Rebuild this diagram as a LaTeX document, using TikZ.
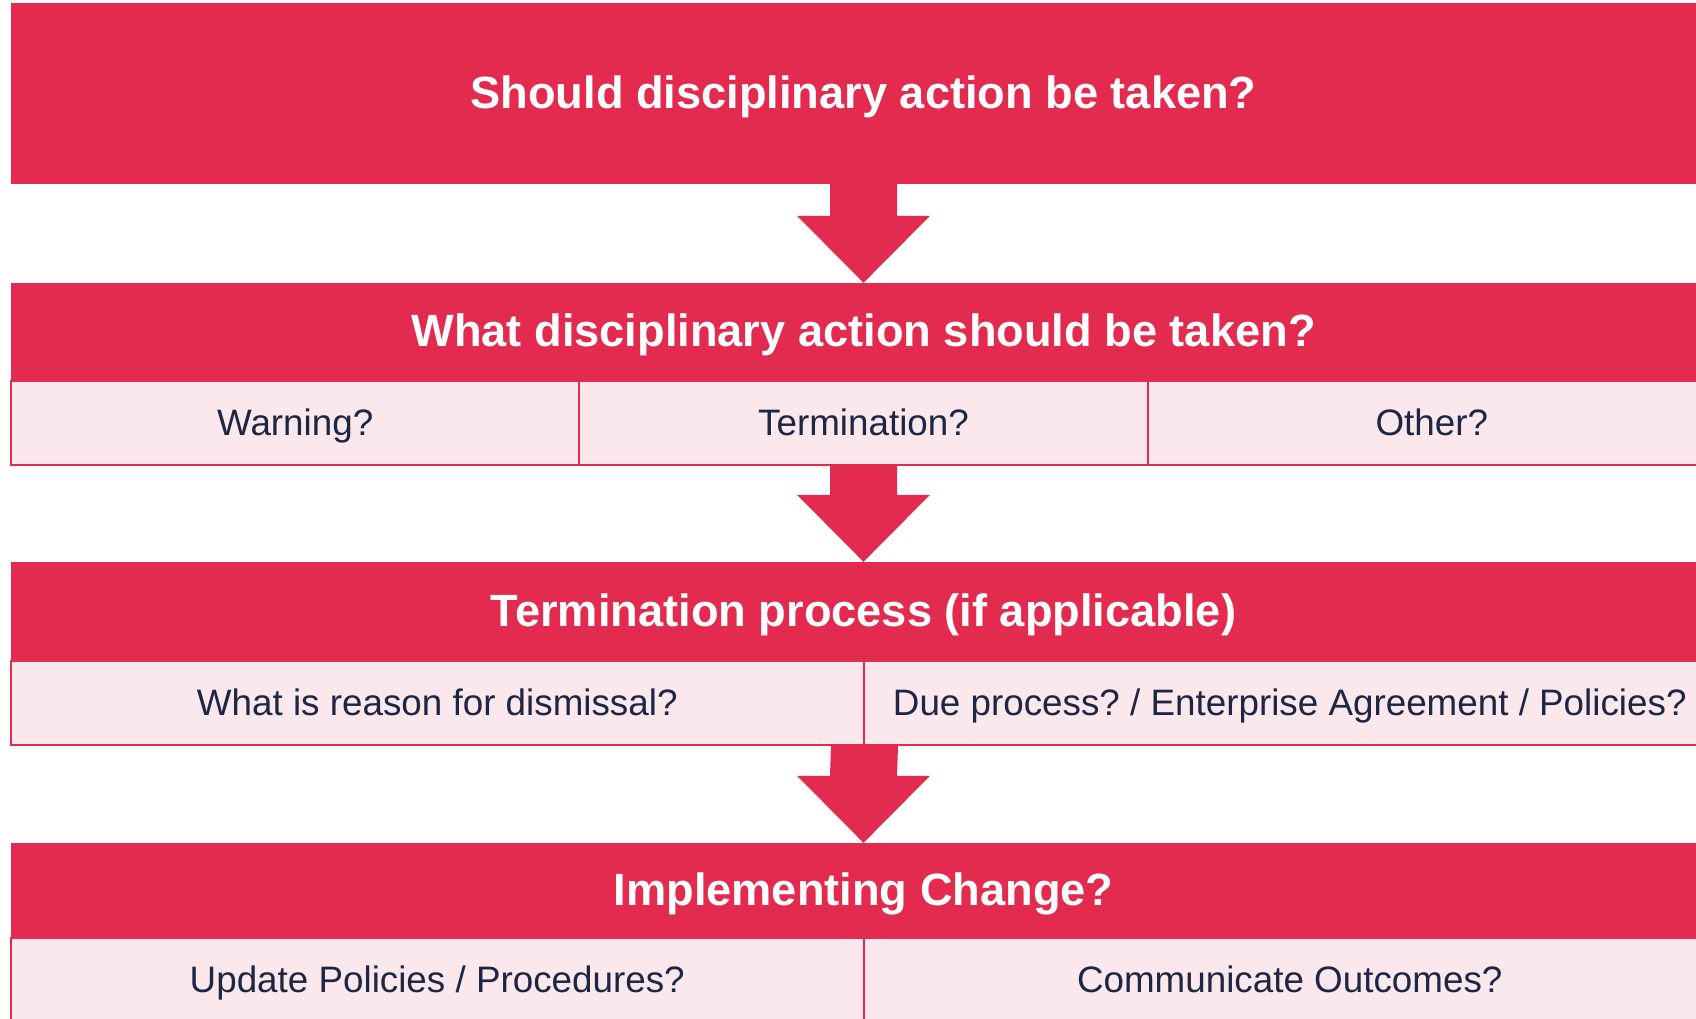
\documentclass[tikz,border=0pt]{standalone}
\usepackage{fontspec}
\setmainfont{Liberation Sans}
\frenchspacing
\usetikzlibrary{calc}
\definecolor{flowred}{RGB}{227,42,79}
\definecolor{flowpink}{RGB}{251,232,236}
\definecolor{flowtext}{RGB}{29,38,66}
\tikzset{
    header/.style={fill=flowred, text=white, inner sep=0pt, minimum width=1705pt,
        text height=33pt, text depth=4pt, font=\fontsize{45.2}{54}\selectfont\bfseries},
    cell/.style={fill=flowpink, draw=flowred, line width=2pt, text=flowtext, inner sep=0pt,
        minimum height=84pt, text height=29pt, text depth=5pt, font=\fontsize{36.8}{44}\selectfont},
}
% block arrow from one point down to another
\newcommand{\downblock}[2]{%
    \fill[flowred] ($(#1)+(-33.5,0)$) -- ($(#1)+(33.5,0)$) -- ($(#2)+(33.5,-67)$)
        -- ($(#2)+(66.5,-67)$) -- (#2) -- ($(#2)+(-66.5,-67)$) -- ($(#2)+(-33.5,-67)$) -- cycle;
}
\begin{document}
\begin{tikzpicture}[x=1pt,y=-1pt]
    \useasboundingbox (0,0) rectangle (1696,1018);
    %first question
    \node[header, minimum height=181pt] (ask) at (863.5,93.5) {Should disciplinary action be taken?};
    %second question
    \node[header, minimum height=98pt] (what) at (863.5,332) {What disciplinary action should be taken?};
    \foreach \name/\x/\txt in {warn/295.2/Warning?, termq/863.5/Termination?, other/1431.8/Other?}
        {%
            \node[cell, minimum width=568.3pt] (\name) at (\x,423) {\txt};
        }
    %termination
    \node[header, minimum height=99pt] (term) at (863.5,611.5) {Termination process (if applicable)};
    \node[cell, minimum width=852.5pt] (reason) at (437.25,703) {What is reason for dismissal?};
    \node[cell, minimum width=852.5pt] (due) at (1289.75,703) {Due process? / Enterprise Agreement / Policies?};
    %change
    \node[header, minimum height=95pt] (impl) at (863.5,890.5) {Implementing Change?};
    \node[cell, minimum width=852.5pt] (update) at (437.25,980) {Update Policies / Procedures?};
    \node[cell, minimum width=852.5pt] (tell) at (1289.75,980) {Communicate Outcomes?};
    %arrows
    \downblock{ask.south}{what.north}
    \downblock{termq.south}{term.north}
    \downblock{reason.south east}{impl.north}
\end{tikzpicture}
\end{document}
